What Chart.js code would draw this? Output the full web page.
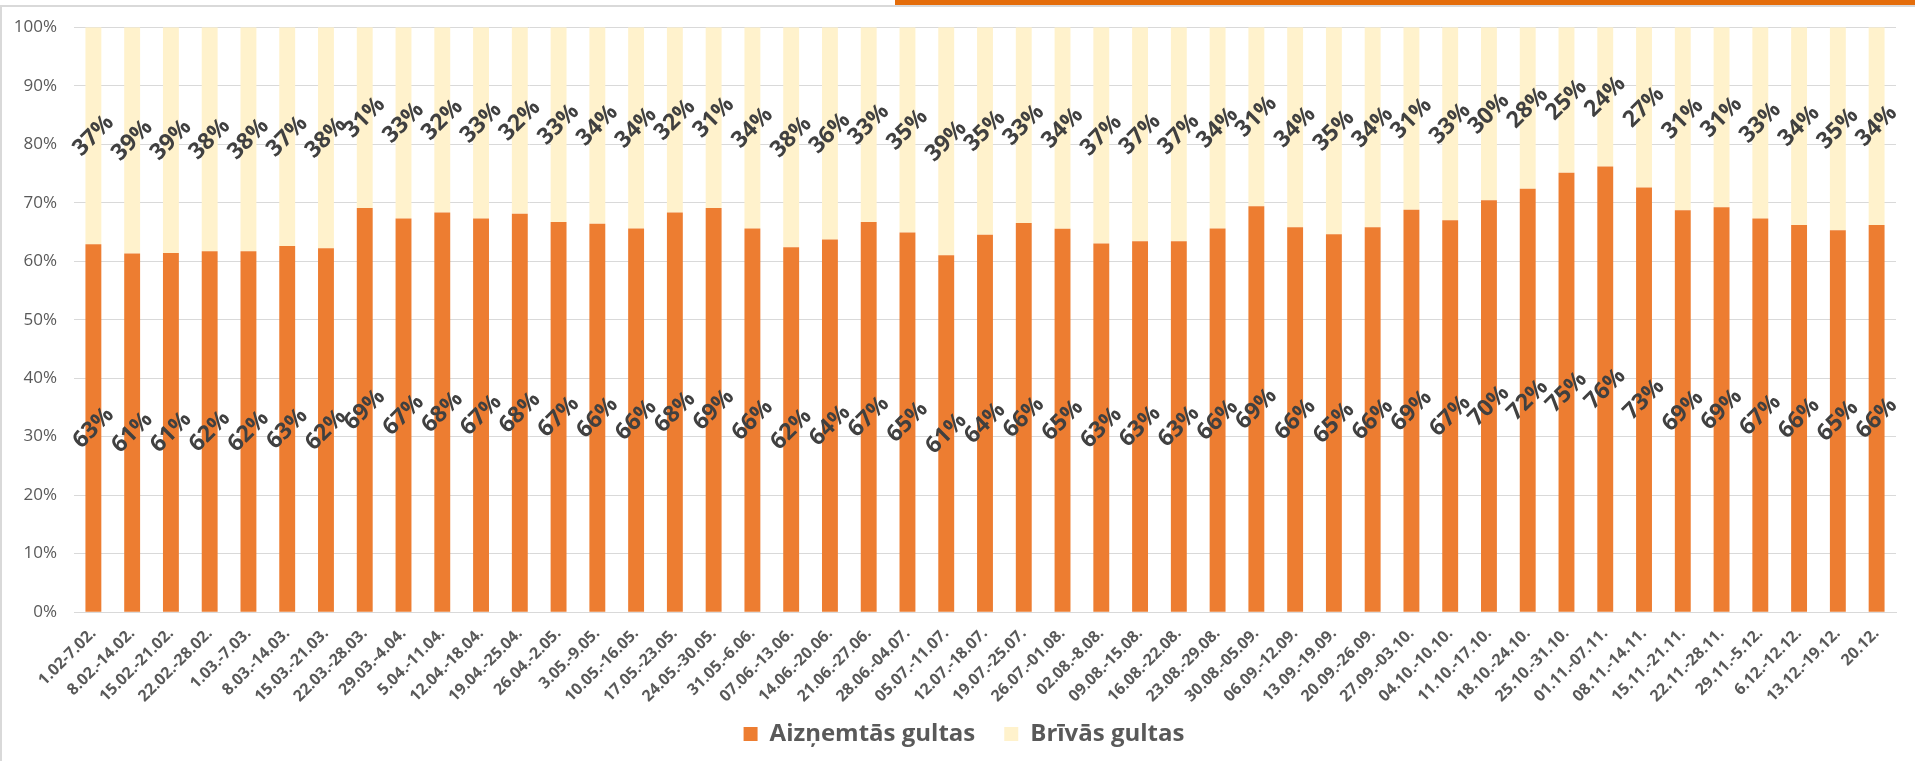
<!DOCTYPE html>
<html>
<head>
<meta charset="utf-8">
<script src="https://cdn.jsdelivr.net/npm/chart.js@4/dist/chart.umd.min.js"></script>
<style>
html,body{margin:0;padding:0;background:#fff;overflow:hidden;}
#wrap{position:absolute;left:0;top:0;width:1915px;height:761px;}
</style>
</head>
<body>
<div id="wrap"><canvas id="c" width="1915" height="761"></canvas></div>
<script>
const categories = ["1.02-7.02.", "8.02.-14.02.", "15.02.-21.02.", "22.02.-28.02.", "1.03.-7.03.", "8.03.-14.03.", "15.03.-21.03.", "22.03.-28.03.", "29.03.-4.04.", "5.04.-11.04.", "12.04.-18.04.", "19.04.-25.04.", "26.04.-2.05.", "3.05.-9.05.", "10.05.-16.05.", "17.05.-23.05.", "24.05.-30.05.", "31.05.-6.06.", "07.06.-13.06.", "14.06.-20.06.", "21.06.-27.06.", "28.06.-04.07.", "05.07.-11.07.", "12.07.-18.07.", "19.07.-25.07.", "26.07.-01.08.", "02.08.-8.08.", "09.08.-15.08.", "16.08.-22.08.", "23.08.-29.08.", "30.08.-05.09.", "06.09.-12.09.", "13.09.-19.09.", "20.09.-26.09.", "27.09.-03.10.", "04.10.-10.10.", "11.10.-17.10.", "18.10.-24.10.", "25.10.-31.10.", "01.11.-07.11.", "08.11.-14.11.", "15.11.-21.11.", "22.11.-28.11.", "29.11.-5.12.", "6.12.-12.12.", "13.12.-19.12.", "20.12."];

const occupied = [62.9, 61.3, 61.4, 61.7, 61.7, 62.6, 62.2, 69.1, 67.3, 68.3,
                  67.3, 68.1, 66.7, 66.4, 65.6, 68.3, 69.1, 65.6, 62.4, 63.7,
                  66.7, 64.9, 61.0, 64.4, 66.4, 65.4, 63.0, 63.4, 63.4, 65.6,
                  69.4, 65.8, 64.6, 65.8, 68.8, 67.0, 70.4, 72.4, 75.1, 76.2,
                  72.6, 68.7, 69.2, 67.3, 66.2, 65.3, 66.2];

const free = [37.1, 38.7, 38.6, 38.3, 38.3, 37.4, 37.8, 30.9, 32.7, 31.7,
              32.7, 31.9, 33.3, 33.6, 34.4, 31.7, 30.9, 34.4, 37.6, 36.3,
              33.3, 35.1, 39.0, 35.4, 33.4, 34.4, 37.0, 36.6, 36.6, 34.4,
              30.6, 34.2, 35.4, 34.2, 31.2, 33.0, 29.6, 27.6, 24.9, 23.8,
              27.4, 31.3, 30.8, 32.7, 33.8, 34.7, 33.8];

const yTicks = [0, 10, 20, 30, 40, 50, 60, 70, 80, 90, 100];
const seriesNames = ["Aizņemtās gultas", "Brīvās gultas"];

// 100% stacked shares built from the two series
const occShare = occupied.map((v, i) => v / (v + free[i]) * 100);
const freeShare = free.map((v, i) => v / (occupied[i] + v) * 100);

const FONT = "'Open Sans', 'Noto Sans', sans-serif";

const framePlugin = {
  id: 'frame',
  beforeDraw(chart) {
    const ctx = chart.ctx;
    ctx.save();
    ctx.fillStyle = '#ffffff';
    ctx.fillRect(0, 0, chart.width, chart.height);
    ctx.fillStyle = '#d9d9d9';
    ctx.fillRect(0, 5, chart.width, 2);
    ctx.fillRect(0, 5, 2, chart.height - 5);
    ctx.fillStyle = '#e46c0a';
    ctx.fillRect(895, 0, chart.width - 895, 5);
    ctx.restore();
  }
};

const labelPlugin = {
  id: 'rotLabels',
  afterDatasetsDraw(chart) {
    const ctx = chart.ctx;
    ctx.save();
    ctx.font = "bold 23px " + FONT;
    ctx.fillStyle = '#404040';
    ctx.textAlign = 'center';
    ctx.textBaseline = 'middle';
    chart.data.datasets.forEach((ds, di) => {
      const meta = chart.getDatasetMeta(di);
      const raw = di === 0 ? occupied : free;
      meta.data.forEach((el, i) => {
        const cx = el.x;
        const cy = (el.y + el.base) / 2;
        ctx.save();
        ctx.translate(cx, cy);
        ctx.rotate(-Math.PI / 4);
        ctx.fillText(Math.round(raw[i]) + '%', 0, 0);
        ctx.restore();
      });
    });
    ctx.restore();
  }
};

const noClip = () => undefined;

new Chart(document.getElementById('c'), {
  type: 'bar',
  data: {
    labels: categories,
    datasets: [
      { label: seriesNames[0], data: occShare, backgroundColor: '#ED7D31', borderWidth: 0,
        categoryPercentage: 1, barPercentage: 0.41 },
      { label: seriesNames[1], data: freeShare, backgroundColor: '#FFF2CC', borderWidth: 0,
        categoryPercentage: 1, barPercentage: 0.41 }
    ]
  },
  options: {
    responsive: false,
    animation: false,
    devicePixelRatio: 1,
    layout: { padding: { left: 32, right: 19, top: 18, bottom: 5 } },
    plugins: {
      tooltip: { enabled: false },
      legend: {
        position: 'bottom',
        labels: {
          boxWidth: 14, boxHeight: 14, padding: 29,
          color: '#595959',
          font: { family: FONT, size: 24, weight: 'bold' }
        }
      }
    },
    scales: {
      x: {
        stacked: true,
        grid: { display: false },
        border: { display: true, color: '#d9d9d9', width: 1 },
        afterFit(axis) { axis.height = axis.height - 17; axis._computeLabelArea = noClip; },
        ticks: {
          autoSkip: false, minRotation: 45, maxRotation: 45, padding: 4,
          color: '#595959',
          font: { family: FONT, size: 16, weight: 'bold' }
        }
      },
      y: {
        stacked: true,
        min: 0, max: 100,
        afterBuildTicks(axis) { axis.ticks = yTicks.map(v => ({ value: v })); },
        afterFit(axis) { axis.width = 42; axis._computeLabelArea = noClip; },
        grid: { color: '#d9d9d9', lineWidth: 1, drawTicks: false },
        border: { display: false },
        ticks: {
          padding: 17,
          color: '#595959',
          font: { family: FONT, size: 17 },
          callback: v => v + '%'
        }
      }
    }
  },
  plugins: [framePlugin, labelPlugin]
});
</script>
</body>
</html>
